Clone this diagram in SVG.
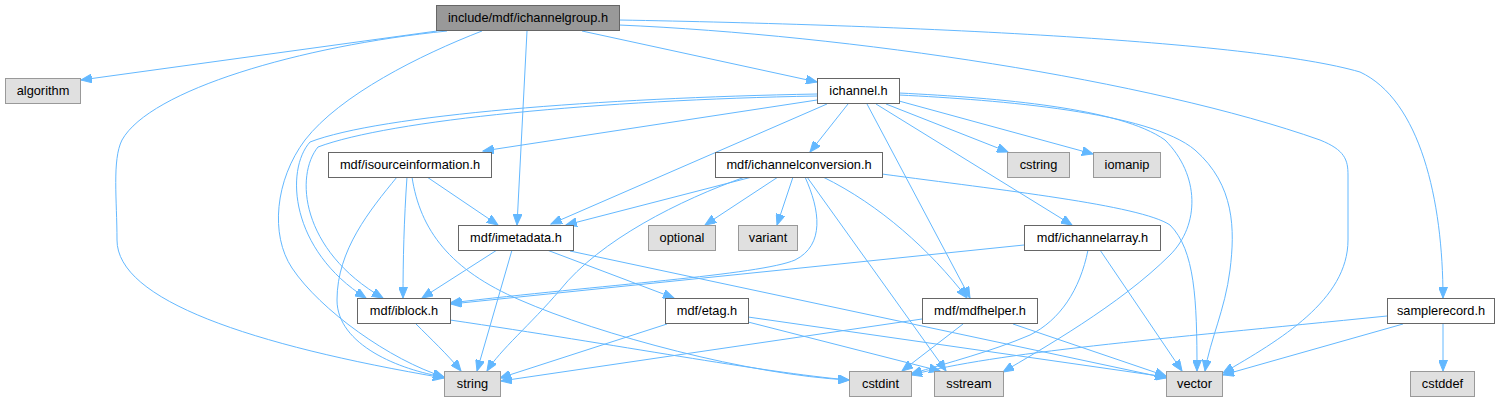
<svg xmlns="http://www.w3.org/2000/svg" width="1503" height="403" viewBox="0 0 1503 403">
<style>
.e{fill:none;stroke:#63b8ff;stroke-width:1;marker-end:url(#arr)}
.n rect{fill:#ffffff;stroke:#666666;stroke-width:1}
.s rect{fill:#e0e0e0;stroke:#999999;stroke-width:1}
.r rect{fill:#999999;stroke:#666666;stroke-width:1}
text{font-family:"Liberation Sans",Arial,sans-serif;font-size:12.8px;fill:#000000;text-anchor:middle}
</style>
<defs>
<marker id="arr" markerWidth="12" markerHeight="9" refX="11" refY="4.5" orient="auto" markerUnits="userSpaceOnUse">
<path d="M0,0 L11,4.5 L0,9 z" fill="#63b8ff" stroke="#63b8ff" stroke-width="1"/>
</marker>
</defs>
<g id="connectors">
<path class="e" d="M437,31 L81,80"/>
<path class="e" d="M447,31 C300,46 150,90 122,140 C112,160 117,200 117,240 C117,300 250,345 444,378"/>
<path class="e" d="M482,31 C420,55 340,95 305,140 C275,180 270,235 292,268 C320,310 390,360 444,377"/>
<path class="e" d="M527,31 L517,225"/>
<path class="e" d="M582,31 L817,82"/>
<path class="e" d="M619,25 C850,35 1150,80 1320,140 C1345,150 1348,160 1348,175 L1348,240 C1348,300 1280,340 1223,373"/>
<path class="e" d="M619,20 C900,25 1250,40 1360,72 C1420,100 1443,200 1443,298"/>
<path class="e" d="M817,94 C600,98 380,115 310,142 C285,170 290,250 366,298"/>
<path class="e" d="M817,96 C600,100 390,120 318,147 C295,175 300,250 383,298"/>
<path class="e" d="M817,100 L483,151"/>
<path class="e" d="M827,104 L551,224"/>
<path class="e" d="M848,104 L810,152"/>
<path class="e" d="M867,104 L970,298"/>
<path class="e" d="M876,104 L1072,225"/>
<path class="e" d="M886,104 L1008,152"/>
<path class="e" d="M899,101 L1093,154"/>
<path class="e" d="M899,93 C1000,98 1120,108 1165,140 C1200,175 1200,225 1170,255 C1120,305 1040,350 1003,372"/>
<path class="e" d="M899,95 C1000,100 1150,112 1195,150 C1235,185 1235,230 1230,270 C1225,310 1210,340 1205,371"/>
<path class="e" d="M427,177 L498,225"/>
<path class="e" d="M407,177 C404,220 403,260 403,298"/>
<path class="e" d="M397,177 C370,210 337,250 337,300 C337,345 400,370 444,377"/>
<path class="e" d="M412,177 C420,230 450,270 520,300 C600,335 750,375 849,380"/>
<path class="e" d="M752,177 L566,225"/>
<path class="e" d="M745,177 C680,200 600,240 560,290 C530,325 500,350 487,371"/>
<path class="e" d="M778,177 L705,225"/>
<path class="e" d="M793,177 L777,225"/>
<path class="e" d="M805,177 C820,210 825,245 795,260 C760,275 600,285 450,303"/>
<path class="e" d="M807,177 L946,371"/>
<path class="e" d="M823,177 C880,205 930,250 967,298"/>
<path class="e" d="M882,174 C1000,190 1140,205 1170,225 C1195,250 1197,300 1197,371"/>
<path class="e" d="M497,250 L422,298"/>
<path class="e" d="M512,250 L477,371"/>
<path class="e" d="M547,250 L674,298"/>
<path class="e" d="M570,251 L1166,378"/>
<path class="e" d="M1024,245 L451,304"/>
<path class="e" d="M1088,250 C1080,290 1060,320 1030,335 C990,352 950,362 911,374"/>
<path class="e" d="M1100,250 L1182,371"/>
<path class="e" d="M416,324 C430,338 448,355 461,371"/>
<path class="e" d="M450,320 C620,345 760,372 849,380"/>
<path class="e" d="M667,324 L500,378"/>
<path class="e" d="M748,322 L940,371"/>
<path class="e" d="M748,317 L1166,377"/>
<path class="e" d="M922,319 L501,381"/>
<path class="e" d="M963,324 L902,371"/>
<path class="e" d="M1013,324 L1166,376"/>
<path class="e" d="M1387,316 C1150,340 1000,352 911,375"/>
<path class="e" d="M1403,324 L1223,375"/>
<path class="e" d="M1443,324 L1443,371"/>
</g>
<g id="node-ichannelgroup" class="r"><rect x="436.5" y="5.5" width="183" height="25"/><text x="528" y="22">include/mdf/ichannelgroup.h</text></g>
<g id="node-algorithm" class="s"><rect x="5.5" y="78.5" width="75" height="25"/><text x="43" y="95">algorithm</text></g>
<g id="node-ichannel" class="n"><rect x="817.5" y="78.5" width="82" height="25"/><text x="858.5" y="95">ichannel.h</text></g>
<g id="node-isourceinformation" class="n"><rect x="328.5" y="152.5" width="163" height="25"/><text x="410" y="169">mdf/isourceinformation.h</text></g>
<g id="node-ichannelconversion" class="n"><rect x="715.5" y="152.5" width="167" height="25"/><text x="799" y="169">mdf/ichannelconversion.h</text></g>
<g id="node-cstring" class="s"><rect x="1007.5" y="152.5" width="62" height="25"/><text x="1038.5" y="169">cstring</text></g>
<g id="node-iomanip" class="s"><rect x="1093.5" y="152.5" width="67" height="25"/><text x="1127" y="169">iomanip</text></g>
<g id="node-imetadata" class="n"><rect x="458.5" y="225.5" width="115" height="25"/><text x="516" y="242">mdf/imetadata.h</text></g>
<g id="node-optional" class="s"><rect x="648.5" y="225.5" width="67" height="25"/><text x="682" y="242">optional</text></g>
<g id="node-variant" class="s"><rect x="738.5" y="225.5" width="59" height="25"/><text x="768" y="242">variant</text></g>
<g id="node-ichannelarray" class="n"><rect x="1024.5" y="225.5" width="136" height="25"/><text x="1092.5" y="242">mdf/ichannelarray.h</text></g>
<g id="node-iblock" class="n"><rect x="357.5" y="298.5" width="93" height="25"/><text x="404" y="315">mdf/iblock.h</text></g>
<g id="node-etag" class="n"><rect x="665.5" y="298.5" width="83" height="25"/><text x="707" y="315">mdf/etag.h</text></g>
<g id="node-mdfhelper" class="n"><rect x="922.5" y="298.5" width="115" height="25"/><text x="980" y="315">mdf/mdfhelper.h</text></g>
<g id="node-samplerecord" class="n"><rect x="1387.5" y="298.5" width="107" height="25"/><text x="1441" y="315">samplerecord.h</text></g>
<g id="node-string" class="s"><rect x="444.5" y="371.5" width="56" height="25"/><text x="472.5" y="388">string</text></g>
<g id="node-cstdint" class="s"><rect x="849.5" y="371.5" width="62" height="25"/><text x="880.5" y="388">cstdint</text></g>
<g id="node-sstream" class="s"><rect x="934.5" y="371.5" width="69" height="25"/><text x="969" y="388">sstream</text></g>
<g id="node-vector" class="s"><rect x="1166.5" y="371.5" width="56" height="25"/><text x="1194.5" y="388">vector</text></g>
<g id="node-cstddef" class="s"><rect x="1410.5" y="371.5" width="64" height="25"/><text x="1442.5" y="388">cstddef</text></g>
</svg>
